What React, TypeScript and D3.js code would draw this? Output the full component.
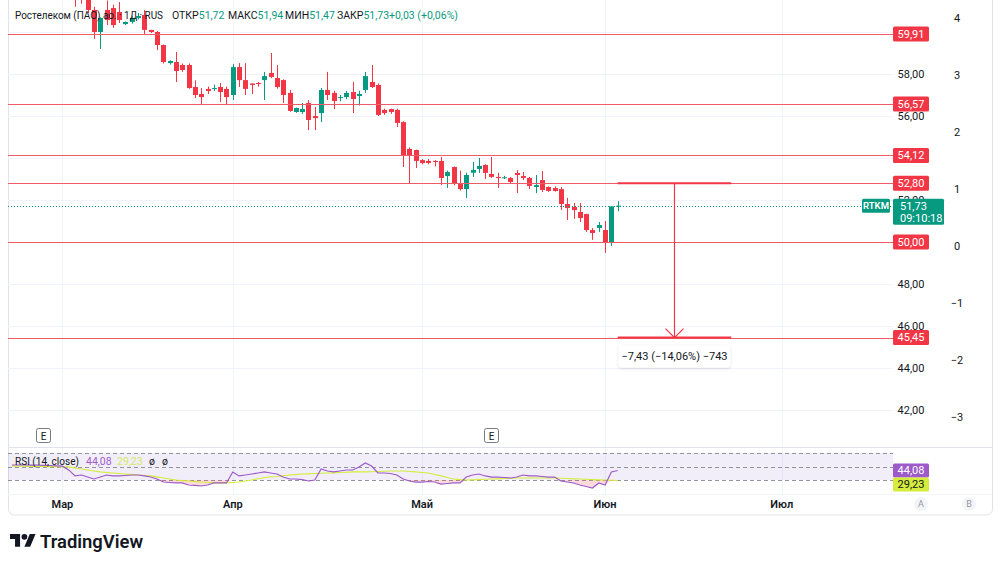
import React from "react";
import * as d3 from "d3";

// дневные свечи RTKM, индекс 0 = первая видимая свеча
const opens = [
  62.2, 62.2, 61.8, 61.05, 60.0, 61.05, 61.14, 60.95, 60.38, 60.48,
  60.67, 60.81, 60.1, 60.0, 59.38, 58.52, 58.57, 58.43, 58.43, 57.38,
  57.05, 57.29, 57.3, 57.38, 57.29, 57.0, 58.33, 57.71, 57.55, 57.57,
  57.71, 58.05, 57.81, 57.71, 57.1, 56.19, 56.19, 56.62, 56.0, 56.14,
  57.24, 57.1, 56.86, 56.9, 57.14, 56.95, 57.24, 57.62, 57.48, 56.29,
  56.33, 56.29, 55.71, 54.43, 54.38, 53.9, 53.86, 53.86, 53.86, 53.14,
  53.57, 52.76, 52.52, 53.3, 53.48, 53.67, 53.24, 53.1, 53.05, 53.05,
  53.29, 53.14, 53.05, 52.62, 52.95, 52.62, 52.57, 52.52, 51.81, 51.67,
  51.43, 51.33, 50.57, 50.67, 50.57, 49.95, 51.72,
];
const highs = [
  62.4, 62.4, 62.0, 61.2, 60.7, 61.5, 61.3, 61.43, 60.5, 60.75,
  60.9, 61.05, 60.1, 60.05, 59.4, 58.65, 59.05, 58.5, 58.5, 57.7,
  57.33, 57.4, 57.5, 57.57, 57.4, 58.48, 58.52, 58.52, 57.55, 57.62,
  58.1, 59.0, 58.43, 57.75, 57.24, 56.4, 56.62, 56.76, 56.43, 57.33,
  58.1, 57.2, 57.0, 57.2, 57.62, 57.2, 58.1, 58.43, 57.55, 56.35,
  56.35, 56.35, 55.75, 54.5, 54.4, 53.95, 53.95, 53.9, 54.05, 53.4,
  53.6, 53.4, 53.3, 53.81, 54.0, 53.7, 54.05, 53.29, 53.15, 53.1,
  53.43, 53.33, 53.1, 53.19, 53.38, 52.65, 52.65, 52.62, 52.1, 51.86,
  51.86, 51.35, 50.67, 50.95, 51.0, 51.72, 51.94,
];
const lows = [
  61.2, 61.35, 60.9, 59.67, 59.19, 60.33, 60.2, 60.43, 60.33, 60.4,
  60.6, 59.86, 59.95, 59.14, 58.5, 58.45, 57.62, 58.1, 57.3, 56.86,
  56.52, 57.05, 57.2, 56.67, 56.52, 56.76, 57.38, 57.0, 57.05, 57.4,
  56.76, 57.8, 57.3, 56.62, 56.2, 56.15, 56.1, 55.33, 55.33, 55.71,
  56.76, 56.33, 56.7, 56.8, 56.14, 56.5, 57.1, 57.33, 56.0, 56.05,
  56.1, 55.48, 53.57, 52.8, 53.52, 53.7, 53.7, 53.6, 52.71, 52.57,
  52.71, 52.45, 52.1, 53.1, 53.29, 53.0, 53.05, 52.57, 53.0, 52.8,
  52.33, 52.95, 52.52, 52.33, 52.38, 52.38, 52.4, 51.52, 51.05, 51.1,
  50.95, 50.48, 50.1, 50.48, 49.48, 49.81, 51.47,
];
const closes = [
  61.8, 61.8, 61.05, 60.0, 60.67, 60.57, 60.33, 60.57, 60.48, 60.67,
  60.76, 60.1, 60.0, 59.38, 58.57, 58.62, 58.14, 58.19, 57.33, 57.0,
  56.9, 57.19, 57.33, 57.14, 56.9, 58.33, 57.71, 57.29, 57.48, 57.52,
  57.9, 57.86, 57.38, 57.0, 56.24, 56.38, 56.33, 55.81, 55.9, 57.24,
  57.0, 56.71, 56.9, 57.1, 56.81, 57.05, 57.9, 57.38, 56.05, 56.14,
  56.19, 55.67, 54.1, 54.1, 53.86, 53.76, 53.76, 53.81, 53.05, 53.33,
  52.81, 52.52, 53.19, 53.43, 53.62, 53.29, 53.1, 53.05, 53.08, 52.86,
  53.19, 53.05, 52.67, 52.71, 52.48, 52.43, 52.43, 51.81, 51.62, 51.52,
  51.14, 50.57, 50.43, 50.81, 49.95, 51.7, 51.73,
];

// RSI (14) и его скользящая, начинаются на 10 баров раньше первой свечи
const rsiFirstBar = -10;
const rsiValues = [
  52.2, 52.2, 52.2, 52.0, 52.0, 51.8, 51.5, 51.0, 50.5, 45.0,
  36.0, 37.4, 34.4, 31.5, 34.4, 37.4, 36.0, 36.0, 36.7, 37.4,
  37.4, 36.0, 34.4, 31.5, 27.0, 26.3, 25.6, 25.6, 22.6, 21.9,
  21.1, 22.6, 25.6, 25.6, 25.6, 41.9, 36.0, 37.4, 38.9, 40.4,
  41.9, 40.4, 38.9, 34.4, 31.5, 31.5, 30.7, 28.5, 30.0, 46.3,
  43.3, 41.9, 43.3, 44.8, 44.8, 49.3, 55.2, 50.7, 40.4, 40.4,
  39.6, 37.4, 31.5, 28.5, 27.0, 27.0, 27.8, 27.0, 24.0, 24.8,
  25.6, 25.6, 34.4, 37.4, 38.9, 36.0, 34.4, 34.4, 33.7, 33.0,
  34.4, 37.4, 36.0, 36.0, 35.2, 34.4, 34.4, 28.5, 27.0, 25.6,
  22.6, 20.4, 18.1, 25.6, 22.6, 41.9, 44.08,
];
const rsiMaValues = [
  50.7, 50.6, 50.5, 50.3, 50.1, 50.0, 49.8, 49.6, 49.5, 49.3,
  47.8, 46.3, 44.8, 43.3, 41.9, 41.1, 40.4, 39.6, 38.9, 38.1,
  37.4, 36.7, 36.0, 34.5, 33.0, 31.5, 30.0, 29.2, 28.5, 27.7,
  27.0, 26.3, 25.6, 25.6, 25.6, 26.3, 27.0, 28.5, 30.0, 31.8,
  33.7, 34.5, 35.2, 36.3, 37.4, 38.1, 38.9, 39.2, 39.6, 40.0,
  40.4, 40.7, 41.1, 41.5, 41.9, 41.9, 41.9, 42.2, 42.6, 43.0,
  43.3, 43.3, 43.3, 42.6, 41.9, 41.1, 40.4, 38.2, 36.0, 33.7,
  31.5, 30.7, 30.0, 30.3, 30.7, 31.1, 31.5, 31.8, 32.2, 32.6,
  33.0, 33.0, 33.0, 33.0, 33.0, 33.0, 33.0, 32.6, 32.2, 31.8,
  31.5, 31.1, 30.7, 30.3, 30.0, 29.6, 29.23,
];

const levelPrices = [59.91, 56.57, 54.12, 52.8, 50.0, 45.45];
const priceTicks = [42, 44, 46, 48, 50, 52, 54, 56, 58, 60];
const sideTicks = [4, 3, 2, 1, 0, -1, -2, -3];
const monthLabels = ["Мар", "Апр", "Май", "Июн", "Июл"];
const monthBars = [-2, 25, 55, 84, 112];
const earningsBars = [-5, 66];
const rsiLevels = [70, 50, 30];
const lastPrice = 51.73;
const measurePrices = [52.8, 45.45];
const measureBars = [86, 104];

const UP = "#089981";
const DOWN = "#f23645";
const RSI_COLOR = "#9c5bc9";
const MA_COLOR = "#d5ec3c";
const MA_TEXT = "#d3e86a";
const TEXT = "#131722";
const GRID = "#f0f3fa";
const FONT = "Roboto, 'Noto Sans', sans-serif";

const fmt = (v: number) => v.toFixed(2).replace(".", ",");

const App = () => {
  // границы панелей
  const left = 8;
  const paneRight = 893;
  const frameRight = 992;
  const mainBottom = 447;
  const rsiBottom = 494;

  const x = d3.scaleLinear().domain([0, 86]).range([75, 617.7]);
  const y = d3.scaleLinear().domain([58, 42]).range([74, 410]);
  const side = d3.scaleLinear().domain([4, -3]).range([18, 417]);
  const rsiY = d3.scaleLinear().domain([70, 30]).range([453, 480]);

  const rsiLine = d3
    .line<number>()
    .x((_, k) => x(k + rsiFirstBar))
    .y((v) => rsiY(v));
  const oversoldArea = d3
    .area<number>()
    .x((_, k) => x(k + rsiFirstBar))
    .y0(rsiY(30))
    .y1((v) => rsiY(Math.min(v, 30)));

  // подписи шкалы, закрытые плашками уровней, не выводим
  const visibleTicks = priceTicks.filter(
    (t) => !levelPrices.some((p) => Math.abs(y(p) - y(t)) < 9)
  );

  const mx0 = x(measureBars[0]);
  const mx1 = x(measureBars[1]);
  const mxc = (mx0 + mx1) / 2;
  const my0 = y(measurePrices[0]);
  const my1 = y(measurePrices[1]);

  return (
    <svg
      width={1000}
      height={566}
      style={{ position: "absolute", left: 0, top: 0, background: "#fff" }}
      fontFamily={FONT}
    >
      <defs>
        <clipPath id="mainClip">
          <rect x={left} y={0} width={paneRight - left} height={mainBottom} />
        </clipPath>
        <clipPath id="rsiClip">
          <rect x={left} y={mainBottom} width={paneRight - left} height={rsiBottom - mainBottom} />
        </clipPath>
        <filter id="shadow" x="-20%" y="-40%" width="140%" height="180%">
          <feDropShadow dx="0" dy="1" stdDeviation="1.5" floodColor="#000" floodOpacity="0.15" />
        </filter>
      </defs>

      {/* рамка графика */}
      <rect x={left + 0.5} y={-8} width={frameRight - left} height={523} rx={6} fill="#fff" stroke="#e0e3eb" />

      {/* сетка */}
      {priceTicks.map((t) => (
        <line key={t} x1={left} x2={paneRight} y1={Math.round(y(t)) + 0.5} y2={Math.round(y(t)) + 0.5} stroke={GRID} />
      ))}
      {monthBars.map((b) => (
        <line key={b} x1={Math.round(x(b)) + 0.5} x2={Math.round(x(b)) + 0.5} y1={0} y2={rsiBottom} stroke={GRID} />
      ))}
      <line x1={left} x2={frameRight} y1={mainBottom + 0.5} y2={mainBottom + 0.5} stroke="#e0e3eb" />
      <line x1={left} x2={frameRight} y1={rsiBottom + 0.5} y2={rsiBottom + 0.5} stroke="#f3f4f7" />

      {/* свечи */}
      <g clipPath="url(#mainClip)">
        {opens.map((o, i) => {
          const c = closes[i];
          const col = c >= o ? UP : DOWN;
          const cx = Math.round(x(i)) + 0.5;
          const top = y(Math.max(o, c));
          const bot = y(Math.min(o, c));
          return (
            <g key={i}>
              <line x1={cx} x2={cx} y1={y(highs[i])} y2={y(lows[i])} stroke={col} />
              <rect x={cx - 2.5} y={top} width={5} height={Math.max(1, bot - top)} fill={col} />
            </g>
          );
        })}
      </g>

      {/* горизонтальные уровни */}
      {levelPrices.map((p) => (
        <line key={p} x1={left} x2={paneRight} y1={Math.round(y(p)) + 0.5} y2={Math.round(y(p)) + 0.5} stroke="#ee5c68" />
      ))}

      {/* линия текущей цены */}
      <line
        x1={left}
        x2={paneRight}
        y1={Math.round(y(lastPrice)) + 0.5}
        y2={Math.round(y(lastPrice)) + 0.5}
        stroke={UP}
        strokeDasharray="1 2"
      />

      {/* измерение */}
      <g stroke="#f23645" fill="none">
        <line x1={mx0} x2={mx1} y1={my0} y2={my0} strokeWidth={2} />
        <line x1={mx0} x2={mx1} y1={my1} y2={my1} strokeWidth={2} />
        <line x1={mxc} x2={mxc} y1={my0} y2={my1} strokeWidth={1.2} />
        <path d={`M${mxc - 9},${my1 - 9}L${mxc},${my1}L${mxc + 9},${my1 - 9}`} strokeWidth={1.2} />
      </g>
      <g filter="url(#shadow)">
        <rect x={mx0 + 1} y={my1 + 8} width={mx1 - mx0 - 2} height={22} rx={3} fill="#fff" />
      </g>
      <text x={mxc} y={my1 + 19} dy="0.35em" textAnchor="middle" fontSize={11} fill={TEXT}>
        −7,43 (−14,06%) −743
      </text>

      {/* метки отчётности */}
      {earningsBars.map((b) => (
        <g key={b}>
          <rect x={Math.round(x(b)) - 6.5} y={428.5} width={14} height={14} rx={2} fill="#fff" stroke="#787b86" />
          <text x={Math.round(x(b)) + 0.5} y={436} dy="0.35em" textAnchor="middle" fontSize={10} fill={TEXT}>
            E
          </text>
        </g>
      ))}

      {/* заголовок */}
      <g fontSize={10.5} fill={TEXT}>
        <text x={15} y={15} dy="0.35em" textLength={148} lengthAdjust="spacingAndGlyphs">
          Ростелеком (ПАО) ао. · 1Д · RUS
        </text>
        <text x={172} y={15} dy="0.35em">
          ОТКР<tspan fill={UP}>51,72</tspan>
        </text>
        <text x={228} y={15} dy="0.35em">
          МАКС<tspan fill={UP}>51,94</tspan>
        </text>
        <text x={285} y={15} dy="0.35em">
          МИН<tspan fill={UP}>51,47</tspan>
        </text>
        <text x={337} y={15} dy="0.35em">
          ЗАКР<tspan fill={UP}>51,73</tspan>
        </text>
        <text x={389} y={15} dy="0.35em" fill={UP}>
          +0,03 (+0,06%)
        </text>
      </g>

      {/* панель RSI */}
      <rect
        x={left}
        y={rsiY(70)}
        width={paneRight - left}
        height={rsiY(30) - rsiY(70)}
        fill="rgba(126,87,194,0.1)"
      />
      {rsiLevels.map((l) => (
        <line
          key={l}
          x1={left}
          x2={paneRight}
          y1={Math.round(rsiY(l)) + 0.5}
          y2={Math.round(rsiY(l)) + 0.5}
          stroke="#787b86"
          strokeDasharray="4 3"
          strokeOpacity={0.8}
        />
      ))}
      <g clipPath="url(#rsiClip)">
        <path d={oversoldArea(rsiValues) ?? ""} fill="rgba(242,54,69,0.18)" />
        <path d={rsiLine(rsiMaValues) ?? ""} fill="none" stroke={MA_COLOR} strokeWidth={1.2} />
        <path d={rsiLine(rsiValues) ?? ""} fill="none" stroke={RSI_COLOR} strokeWidth={1.2} />
      </g>
      <g fontSize={10.5}>
        <text x={15} y={461} dy="0.35em" fill={TEXT} textLength={64} lengthAdjust="spacingAndGlyphs">
          RSI (14, close)
        </text>
        <text x={86} y={461} dy="0.35em" fill={RSI_COLOR}>44,08</text>
        <text x={117} y={461} dy="0.35em" fill={MA_TEXT}>29,23</text>
        <text x={149} y={461} dy="0.35em" fill={TEXT}>ø</text>
        <text x={162} y={461} dy="0.35em" fill={TEXT}>ø</text>
      </g>

      {/* шкала цены */}
      {visibleTicks.map((t) => (
        <text key={t} x={911} y={y(t)} dy="0.35em" textAnchor="middle" fontSize={11} fill={TEXT}>
          {fmt(t)}
        </text>
      ))}
      {levelPrices.map((p) => (
        <g key={p}>
          <rect x={paneRight} y={y(p) - 7.5} width={36} height={15} rx={1.5} fill={DOWN} />
          <text x={paneRight + 18} y={y(p)} dy="0.35em" textAnchor="middle" fontSize={11} fill="#fff">
            {fmt(p)}
          </text>
        </g>
      ))}
      <rect x={862} y={y(lastPrice) - 7} width={28} height={14} rx={1.5} fill={UP} />
      <text x={876} y={y(lastPrice)} dy="0.35em" textAnchor="middle" fontSize={9.5} fontWeight={600} fill="#fff">
        RTKM
      </text>
      <rect x={paneRight} y={y(lastPrice) - 7} width={51} height={26} rx={1.5} fill={UP} />
      <text x={paneRight + 7} y={y(lastPrice)} dy="0.35em" fontSize={11} fill="#fff">
        {fmt(lastPrice)}
      </text>
      <text x={paneRight + 7} y={y(lastPrice) + 12} dy="0.35em" fontSize={11} fill="#fff">
        09:10:18
      </text>

      {/* вторая шкала */}
      {sideTicks.map((t) => (
        <text key={t} x={957} y={side(t)} dy="0.35em" textAnchor="middle" fontSize={11} fill={TEXT}>
          {t < 0 ? `−${-t}` : t}
        </text>
      ))}

      {/* метки RSI на шкале */}
      <rect x={paneRight} y={rsiY(44.08) - 7} width={36} height={14} rx={1.5} fill={RSI_COLOR} />
      <text x={paneRight + 18} y={rsiY(44.08)} dy="0.35em" textAnchor="middle" fontSize={11} fill="#fff">
        44,08
      </text>
      <rect x={paneRight} y={rsiY(44.08) + 7} width={36} height={14} rx={1.5} fill={MA_COLOR} />
      <text x={paneRight + 18} y={rsiY(44.08) + 14} dy="0.35em" textAnchor="middle" fontSize={11} fill={TEXT}>
        29,23
      </text>

      {/* шкала времени */}
      {monthLabels.map((m, k) => (
        <text
          key={m}
          x={x(monthBars[k])}
          y={504}
          dy="0.35em"
          textAnchor="middle"
          fontSize={11}
          fontWeight={600}
          fill={TEXT}
        >
          {m}
        </text>
      ))}
      {["A", "B"].map((s, k) => (
        <g key={s}>
          <circle cx={921 + k * 48} cy={504} r={7} fill="#f3f4f7" />
          <text x={921 + k * 48} y={504} dy="0.35em" textAnchor="middle" fontSize={9} fill="#9598a1">
            {s}
          </text>
        </g>
      ))}

      {/* логотип */}
      <g transform="translate(10,531) scale(0.72)" fill="#131722">
        <path d="M14 22H7V11H0V4h14v18z" />
        <circle cx={20} cy={8} r={4} />
        <path d="M28 22h-8l7.5-18h8L28 22z" />
      </g>
      <text x={40} y={541} dy="0.35em" fontSize={19} fontWeight={600} fill="#131722" textLength={103} lengthAdjust="spacingAndGlyphs">
        TradingView
      </text>
    </svg>
  );
};

export default App;
